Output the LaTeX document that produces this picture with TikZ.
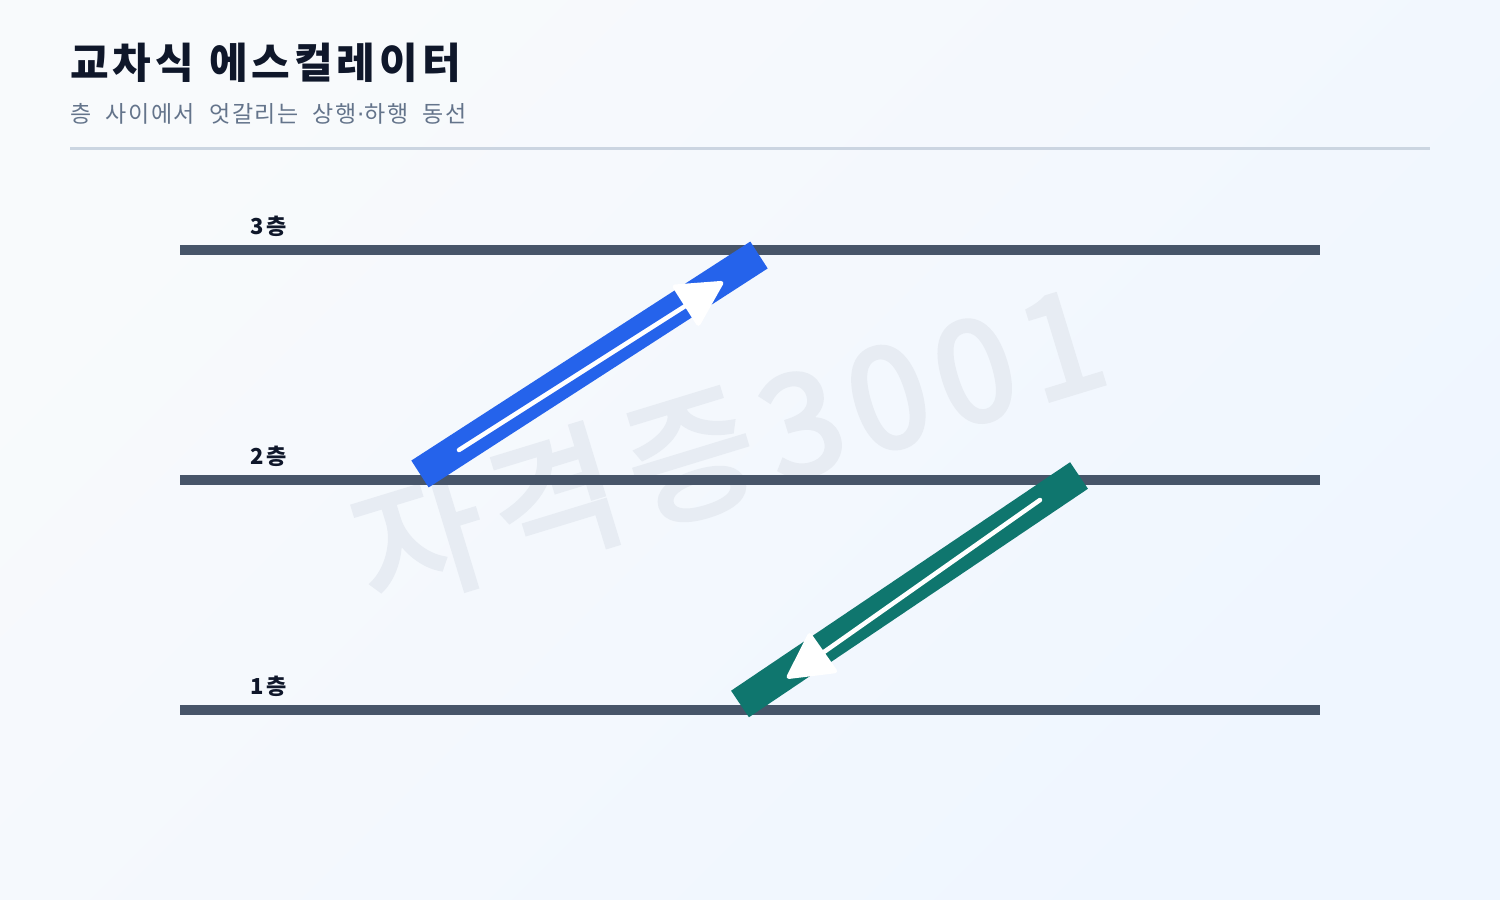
\documentclass[tikz,border=0pt]{standalone}
\usepackage{fontspec}
\newfontfamily\krT{Noto Sans CJK KR}[LetterSpace=9.5]
\newfontfamily\krS{Noto Sans CJK KR}[LetterSpace=7.5]
\newfontfamily\krL{Noto Sans CJK KR}[LetterSpace=15]
\newfontfamily\krW{Noto Sans CJK KR}[LetterSpace=9,FakeBold=3]
\newfontfamily\dv{DejaVu Sans}
\usetikzlibrary{arrows.meta}
\definecolor{bgA}{HTML}{F8FAFC}
\definecolor{bgB}{HTML}{EFF6FF}
\definecolor{titlec}{HTML}{0F172A}
\definecolor{subc}{HTML}{64748B}
\definecolor{rulec}{HTML}{CBD5E1}
\definecolor{floorc}{HTML}{475569}
\definecolor{upc}{HTML}{2563EB}
\definecolor{downc}{HTML}{0F766E}
\definecolor{wmc}{HTML}{E7ECF3}
\tikzset{
  floorline/.style={draw=floorc, line width=10pt},
  floorlabel/.style={anchor=base west, inner sep=0pt, font=\krL\bfseries\fontsize{22}{26}\selectfont, text=titlec},
  escbody/.style={line width=32pt, line cap=butt},
  escflow/.style={draw=white, line width=4.5pt, line cap=round, -{Triangle[length=48pt,width=50pt,round=false]}},
}
\begin{document}
\begin{tikzpicture}[x=1pt,y=1pt]
\useasboundingbox (0,0) rectangle (1500,900);
\shade[shading=axis, top color=bgA, bottom color=bgB, shading angle=45] (0,0) rectangle (1500,900);
% watermark
\node[rotate=17, inner sep=0pt, font=\krW\fontsize{140}{140}\selectfont, text=wmc] (wm) at (728,456) {자격증3001};
% header
\node[anchor=base west, inner sep=0pt, font=\krT\bfseries\fontsize{42}{50}\selectfont, text=titlec] (title) at (70,821) {\spaceskip=15pt\relax 교차식 에스컬레이터};
\node[anchor=base west, inner sep=0pt, font=\krS\fontsize{23}{30}\selectfont, text=subc] (subtitle) at (70,777) {\spaceskip=14pt\relax 층 사이에서 엇갈리는 상행{\dv ·}하행 동선};
\coordinate (ruleL) at (70,751);
\coordinate (ruleR) at (1430,751);
\draw[rulec, line width=3pt] (ruleL) -- (ruleR);
% floors
\coordinate (f3L) at (180,650); \coordinate (f3R) at (1320,650);
\coordinate (f2L) at (180,420); \coordinate (f2R) at (1320,420);
\coordinate (f1L) at (180,190); \coordinate (f1R) at (1320,190);
\draw[floorline] (f3L) -- (f3R);
\draw[floorline] (f2L) -- (f2R);
\draw[floorline] (f1L) -- (f1R);
\node[floorlabel] (l3) at (250,665) {3층};
\node[floorlabel] (l2) at (250,435) {2층};
\node[floorlabel] (l1) at (250,205) {1층};
% up escalator
\coordinate (upA) at (420,426);
\coordinate (upB) at (759,645);
\coordinate (upS) at (459,450);
\coordinate (upT) at (723,618);
\draw[escbody, upc] (upA) -- (upB);
\draw[escflow] (upS) -- (upT);
% down escalator
\coordinate (dnA) at (1079,424.5);
\coordinate (dnB) at (740,196);
\coordinate (dnS) at (1040,400);
\coordinate (dnT) at (787,222);
\draw[escbody, downc] (dnA) -- (dnB);
\draw[escflow] (dnS) -- (dnT);
\end{tikzpicture}
\end{document}
